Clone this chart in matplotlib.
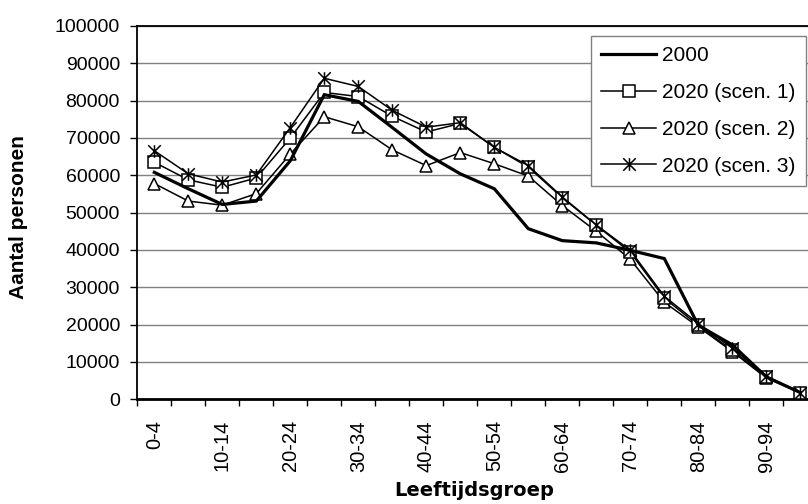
import matplotlib
matplotlib.use("Agg")
import matplotlib.pyplot as plt
from matplotlib.path import Path
from matplotlib.ticker import FixedLocator, NullFormatter

categories = ['0-4', '5-9', '10-14', '15-19', '20-24', '25-29', '30-34', '35-39',
              '40-44', '45-49', '50-54', '55-59', '60-64', '65-69', '70-74', '75-79',
              '80-84', '85-89', '90-94', '95-99']
y2000 = [60800, 56400, 52200, 53100, 63900, 81600, 79800, 72800, 65700, 60400,
         56400, 45700, 42500, 41900, 39900, 37700, 19800, 14600, 6000, 1800]
scen1 = [63500, 58800, 56800, 59300, 70000, 82200, 81100, 75800, 71600, 73900,
         67500, 62200, 54000, 46600, 39400, 27100, 19800, 13100, 6000, 1800]
scen2 = [57800, 53100, 52000, 55100, 65700, 75700, 73000, 66800, 62600, 66100,
         63100, 59800, 51900, 45000, 37500, 26000, 19400, 12800, 5700, 1800]
scen3 = [66600, 60400, 58200, 60100, 72800, 86000, 83800, 77400, 72900, 74100,
         67500, 62600, 54200, 46700, 39900, 27600, 20300, 13700, 6200, 1800]
labels = ['2000', '2020 (scen. 1)', '2020 (scen. 2)', '2020 (scen. 3)']
yticks = list(range(0, 100001, 10000))

W, H = 808, 504
fig = plt.figure(figsize=(W / 100, H / 100), dpi=100)
L, R, B, T = 137.3, 817.3, 399.3, 26.0
ax = fig.add_axes([L / W, 1 - B / H, (R - L) / W, (B - T) / H])

FONT = 'Liberation Sans'
x = list(range(len(categories)))

star = Path([(0, -1), (0, 1), (-1, -1), (1, 1), (-1, 1), (1, -1)],
            [Path.MOVETO, Path.LINETO, Path.MOVETO, Path.LINETO, Path.MOVETO, Path.LINETO])

ax.plot(x, y2000, color='black', lw=2.3, label=labels[0], zorder=5, solid_joinstyle='miter')
ax.plot(x, scen1, color='black', lw=1.1, marker='s', ms=8.5, mfc='white', mec='black',
        mew=1.1, label=labels[1], zorder=4)
ax.plot(x, scen2, color='black', lw=1.1, marker='^', ms=9, mfc='white', mec='black',
        mew=1.1, label=labels[2], zorder=3)
ax.plot(x, scen3, color='black', lw=1.1, marker=star, ms=9, mfc='none', mec='black',
        mew=1.1, label=labels[3], zorder=4)

ax.set_xlim(-0.5, len(categories) - 0.5)
ax.set_ylim(0, 100000)
ax.set_yticks(yticks)
ax.set_yticklabels([str(v) for v in yticks], fontsize=14, family=FONT)
ax.yaxis.grid(True, color='#808080', lw=1.0)
ax.set_axisbelow(True)

ax.xaxis.set_major_locator(FixedLocator(x[::2]))
ax.set_xticklabels(categories[::2], rotation=90, fontsize=14.5, family=FONT, va='top')
ax.xaxis.set_minor_locator(FixedLocator([i + 0.5 for i in range(-1, len(categories))]))
ax.xaxis.set_minor_formatter(NullFormatter())
ax.tick_params(axis='x', which='major', length=0, pad=15)
ax.tick_params(axis='x', which='minor', length=5, width=1.0, color='black', direction='out')
ax.tick_params(axis='y', length=5, width=1.0, color='black', direction='out', pad=7.5)

for s in ['left', 'top']:
    ax.spines[s].set_linewidth(1.3)
    ax.spines[s].set_color('black')
ax.spines['bottom'].set_linewidth(2.0)
ax.spines['right'].set_visible(False)

fig.text(18.5 / W, 1 - 217 / H, 'Aantal personen', rotation=90, ha='center', va='center',
         fontsize=15, fontweight='bold', family=FONT)
fig.text(474 / W, 1 - 490 / H, 'Leeftijdsgroep', ha='center', va='center',
         fontsize=14, fontweight='bold', family='DejaVu Sans')

leg = ax.legend(loc='upper left', bbox_to_anchor=(591 / W, 1 - 36 / H),
                bbox_transform=fig.transFigure, frameon=True, fancybox=False,
                prop={'family': FONT, 'size': 15}, handlelength=2.6, handletextpad=0.3,
                labelspacing=0.85, borderpad=0.5, borderaxespad=0)
leg.get_frame().set_edgecolor('#808080')
leg.get_frame().set_linewidth(1.0)
leg.get_frame().set_alpha(1)

fig.savefig('out.png', dpi=100)
